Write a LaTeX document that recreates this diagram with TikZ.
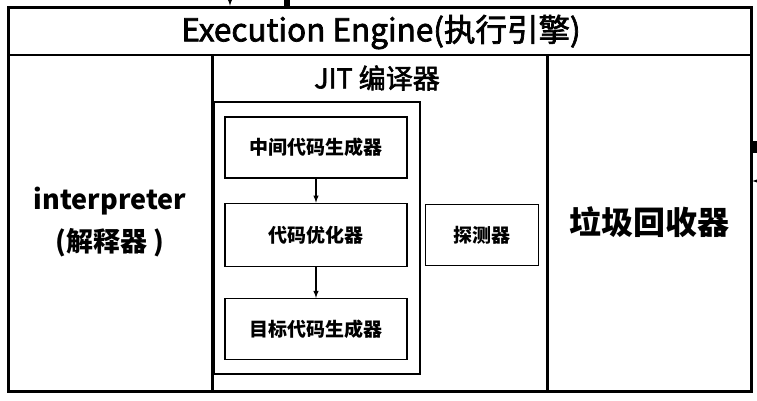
\documentclass[tikz,border=0pt]{standalone}
\usepackage{fontspec}
\setmainfont{Noto Sans CJK SC}
\newfontfamily\medfont[FakeBold=2.2]{Noto Sans CJK SC}
\usetikzlibrary{positioning}

\tikzset{
  stagebox/.style={draw, line width=1.3pt, minimum width=182pt, minimum height=61pt,
    inner sep=0pt, font=\fontsize{19}{19}\selectfont\bfseries},
  flowarrow/.style={-latex, line width=1.4pt},
}

\begin{document}
\begin{tikzpicture}[x=1pt, y=-1pt]
  \useasboundingbox (0,0) rectangle (757,400);
  \clip (0,0) rectangle (757,400);

  % Frame and columns
  \draw [line width=3pt] (8,7) rectangle (751,391);
  \draw [line width=2.5pt] (8,55) -- (751,55);
  \draw [line width=3pt] (212,55) -- (212,391);
  \draw [line width=3pt] (547,55) -- (547,391);

  \node (engine) at (381,32) {\medfont\fontsize{31.5}{31.5}\selectfont Execution Engine(执行引擎)};

  \node (interp) [align=center, font=\fontsize{27}{42}\selectfont\bfseries] at (110,222)
    {interpreter\\(解释器 )};

  \node (gc) [font=\fontsize{32}{32}\selectfont\bfseries] at (649,222) {垃圾回收器};

  % JIT column
  \node (jit) at (377,78) {\medfont\fontsize{27}{27}\selectfont JIT 编译器};
  \draw [line width=1.3pt] (214,102) rectangle (420,374);

  \node (irgen) [stagebox] at (316,147.5) {中间代码生成器};
  \node (optim) [stagebox, minimum height=63pt, below=24pt of irgen] {代码优化器};
  \node (codegen) [stagebox, below=31pt of optim] {目标代码生成器};
  \node (probe) [stagebox, minimum width=113pt, right=17pt of optim] {探测器};

  \draw [flowarrow] (irgen) -- (optim);
  \draw [flowarrow] (optim) -- (codegen);

  % Cut-off links at the edges
  \coordinate (inTop) at (230,-20);
  \coordinate (inTopEnd) at (230,6);
  \draw [-latex, line width=2pt] (inTop) -- (inTopEnd);
  \coordinate (outTop) at (287,-10);
  \coordinate (outTopEnd) at (287,6);
  \draw [line width=6pt] (outTop) -- (outTopEnd);

  \coordinate (outRight) at (770,147);
  \coordinate (outRightEnd) at (751,147);
  \draw [line width=12pt] (outRight) -- (outRightEnd);
  \coordinate (inRight) at (790,181);
  \coordinate (inRightEnd) at (752,181);
  \draw [-latex, line width=2pt] (inRight) -- (inRightEnd);
\end{tikzpicture}
\end{document}
